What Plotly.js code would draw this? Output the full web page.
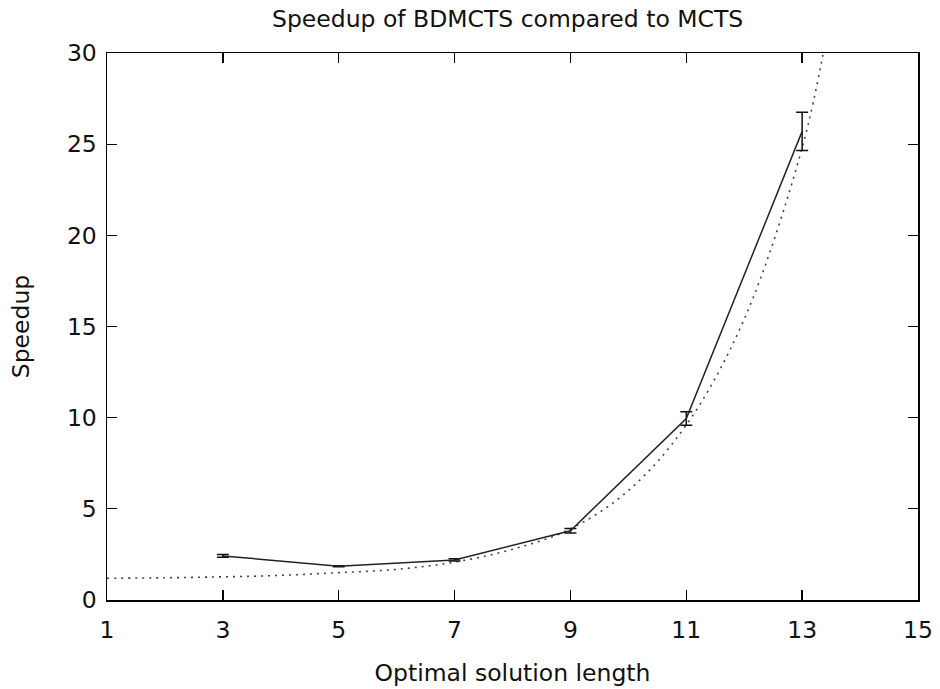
<!DOCTYPE html>
<html>
<head>
<meta charset="utf-8">
<script src="https://cdn.plot.ly/plotly-3.0.1.min.js"></script>
<style>html,body{margin:0;padding:0;background:#fff;}#chart{width:940px;height:689px;}</style>
</head>
<body>
<div id="chart"></div>
<script>
// Measured speedup
const lengths = [3, 5, 7, 9, 11, 13];
const speedup = [2.42, 1.85, 2.2, 3.8, 9.95, 25.7];
const speedupErr = [0.08, 0.03, 0.06, 0.12, 0.37, 1.05];

// Fitted curve (dotted)
const fitX = [1, 2, 3, 4, 5, 6, 7, 8, 9, 10, 11, 12, 13, 13.4];
const fitY = [1.19, 1.22, 1.27, 1.35, 1.5, 1.68, 2.08, 2.78, 3.9, 6.0, 9.6, 15.4, 24.8, 30.6];

const xTicks = [1, 3, 5, 7, 9, 11, 13, 15];
const yTicks = [0, 5, 10, 15, 20, 25, 30];

const font = 'DejaVu Sans, sans-serif';
const fs = 23.5;

const traces = [
  {
    x: fitX, y: fitY, mode: 'lines', type: 'scatter',
    line: {color: '#444', width: 1.6, dash: '2px,5px', shape: 'spline'},
    hoverinfo: 'skip', showlegend: false
  },
  {
    x: lengths, y: speedup, mode: 'lines', type: 'scatter',
    line: {color: '#222', width: 1.5},
    error_y: {type: 'data', array: speedupErr, visible: true, color: '#111', thickness: 1.5, width: 6},
    showlegend: false
  }
];

const axisCommon = {
  showline: true, linecolor: '#000', linewidth: 1.5, mirror: 'ticks',
  ticks: 'inside', ticklen: 10, tickwidth: 1.3, tickcolor: '#000',
  showgrid: false, zeroline: false,
  tickfont: {family: font, size: fs, color: '#111'}
};

const layout = {
  width: 940, height: 689,
  margin: {l: 107, r: 22, t: 53, b: 89},
  paper_bgcolor: '#fff', plot_bgcolor: '#fff',
  title: {text: 'Speedup of BDMCTS compared to MCTS', font: {family: font, size: fs, color: '#111'},
          x: 0.54, xanchor: 'center', yref: 'container', y: 1 - 19 / 689, yanchor: 'middle'},
  xaxis: Object.assign({}, axisCommon, {
    range: [1, 15], tickvals: xTicks, ticktext: xTicks.map(String),
    ticklabelstandoff: 8,
    title: {text: 'Optimal solution length', font: {family: font, size: fs, color: '#111'}, standoff: 22}
  }),
  yaxis: Object.assign({}, axisCommon, {
    range: [0, 30], tickvals: yTicks, ticktext: yTicks.map(String),
    ticklabelstandoff: 4,
    title: {text: 'Speedup', font: {family: font, size: fs, color: '#111'}, standoff: 30}
  })
};

Plotly.newPlot('chart', traces, layout, {displayModeBar: false, staticPlot: true});
</script>
</body>
</html>
